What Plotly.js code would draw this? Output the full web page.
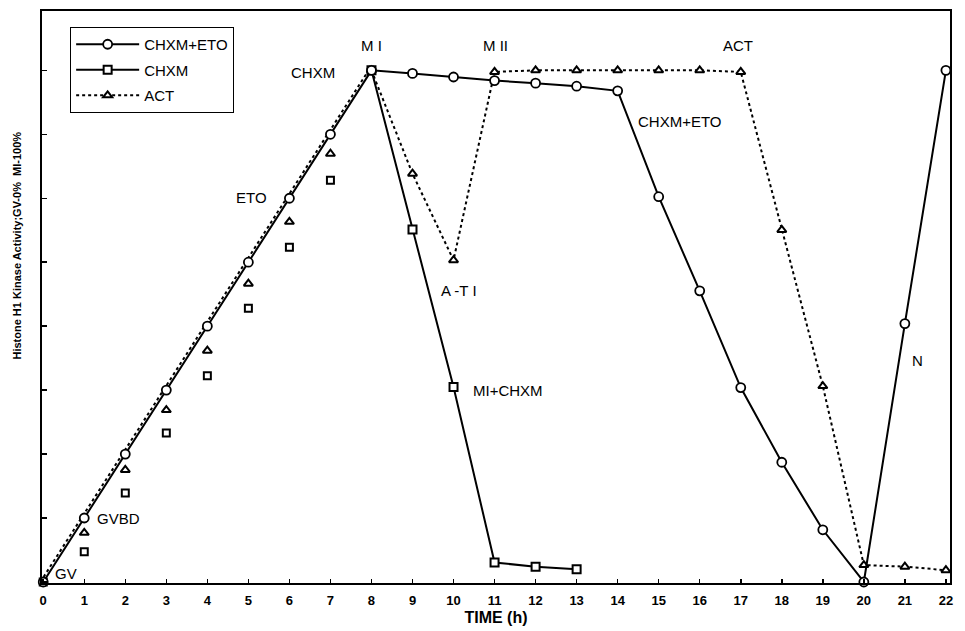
<!DOCTYPE html>
<html>
<head>
<meta charset="utf-8">
<script src="https://cdn.plot.ly/plotly-3.0.1.min.js"></script>
<style>html,body{margin:0;padding:0;background:#fff;}#chart{width:965px;height:631px;}</style>
</head>
<body>
<div id="chart"></div>
<script>
// Time (h)
const hoursEto = [0,1,2,3,4,5,6,7,8,9,10,11,12,13,14,15,16,17,18,19,20,21,22];
const hoursChxm = [0,1,2,3,4,5,6,7,8,9,10,11,12,13];
const hoursAct = [0,1,2,3,4,5,6,7,8,9,10,11,12,13,14,15,16,17,18,19,20,21,22];
const tickLabels = ["0","1","2","3","4","5","6","7","8","9","10","11","12","13","14","15","16","17","18","19","20","21","22"];

// Histone H1 kinase activity (% ; GV = 0, MI = 100)
const chxmEto = [0,12.5,25,37.5,50,62.5,75,87.5,100,99.4,98.7,98.0,97.5,96.9,96.0,75.3,56.9,38.0,23.4,10.2,0,50.5,100];
const chxm    = [0,5.9,17.4,29.1,40.3,53.5,65.4,78.5,100,68.9,38.1,3.8,3.0,2.5];
const act     = [0,9.6,21.9,33.6,45.2,58.3,70.4,83.7,100,79.8,62.9,99.7,100,100,100,100,100,99.7,68.8,38.3,3.3,3.0,2.3];

// labels written on the plot
const noteText = ["GV","GVBD","ETO","CHXM","M I","M II","ACT","CHXM+ETO","A -T I","MI+CHXM","N"];
const noteX    = [0.55,1.27,5.07,6.58,8.01,11.03,16.93,15.52,10.13,11.33,21.31];
const noteY    = [1.6,12.5,75.1,99.6,104.9,104.9,104.9,90.0,57.0,37.5,43.2];
const noteAnchor = ["center","left","center","center","center","center","center","center","center","center","center"];

const yTitle = "Histone H1 Kinase Activity;GV-0%  MI-100%";

const rampEnd = 9; // points up to MI (8 h)
const font = "Arial, 'Liberation Sans', sans-serif";

const traces = [];
// ACT dotted ramp drawn just above the solid ramp
traces.push({
  x: hoursEto.slice(0, rampEnd).map(v => v - 0.07), y: chxmEto.slice(0, rampEnd),
  mode: "lines", line: {color: "#000", width: 2, dash: "dot"},
  showlegend: false, hoverinfo: "skip", cliponaxis: false
});
// ACT rising points (unconnected)
traces.push({
  x: hoursAct.slice(1, 8), y: act.slice(1, 8), mode: "markers",
  marker: {symbol: "triangle-up", size: 8, color: "#fff", line: {color: "#000", width: 2}},
  showlegend: false, cliponaxis: false
});
// ACT from MI
traces.push({
  name: "ACT", legendgroup: "c", legendrank: 3, x: hoursAct.slice(8), y: act.slice(8), mode: "lines+markers",
  line: {color: "#000", width: 2, dash: "dot"},
  marker: {symbol: "triangle-up", size: 8, color: "#fff", line: {color: "#000", width: 2}},
  cliponaxis: false
});
// CHXM rising points (unconnected)
traces.push({
  x: hoursChxm.slice(0, 8), y: chxm.slice(0, 8), mode: "markers",
  marker: {symbol: "square", size: 7, color: "#fff", line: {color: "#000", width: 2}},
  showlegend: false, cliponaxis: false
});
// CHXM from MI
traces.push({
  name: "CHXM", legendgroup: "b", legendrank: 2, x: hoursChxm.slice(8), y: chxm.slice(8), mode: "lines+markers",
  line: {color: "#000", width: 2},
  marker: {symbol: "square", size: 8, color: "#fff", line: {color: "#000", width: 2}},
  cliponaxis: false
});
// CHXM+ETO
traces.push({
  name: "CHXM+ETO", legendgroup: "a", legendrank: 1, x: hoursEto, y: chxmEto, mode: "lines+markers",
  line: {color: "#000", width: 2},
  marker: {symbol: "circle", size: 9, color: "#fff", line: {color: "#000", width: 1.8}},
  cliponaxis: false
});

const annotations = noteText.map((t, i) => ({
  text: t, x: noteX[i], y: noteY[i], xref: "x", yref: "y",
  xanchor: noteAnchor[i], yanchor: "middle", showarrow: false,
  font: {family: font, size: 15, color: "#000"}
}));
annotations.push({
  text: "<b>" + yTitle + "</b>", xref: "paper", yref: "paper",
  x: -0.0286, y: 0.59, xanchor: "center", yanchor: "middle", textangle: -90,
  showarrow: false, font: {family: font, size: 11, color: "#000"}
});

const layout = {
  width: 965, height: 631,
  margin: {l: 42, r: 15, t: 11, b: 48},
  paper_bgcolor: "#fff", plot_bgcolor: "#fff",
  font: {family: font, color: "#000"},
  showlegend: true,
  legend: {
    x: 0.031, y: 0.972, xanchor: "left", yanchor: "top",
    bordercolor: "#000", borderwidth: 1, bgcolor: "#fff",
    font: {family: font, size: 15, color: "#000"},
    itemwidth: 63, tracegroupgap: 3, traceorder: "grouped"
  },
  xaxis: {
    range: [-0.03, 22.1], tickmode: "array", tickvals: hoursEto, ticktext: tickLabels.map(s => "<b>" + s + "</b>"),
    tickfont: {family: font, size: 13, color: "#000"},
    ticks: "inside", ticklen: 4, tickwidth: 1.5, tickcolor: "#000", ticklabelstandoff: 4,
    showline: true, linecolor: "#000", linewidth: 2, mirror: true,
    showgrid: false, zeroline: false,
    title: {text: "<b>TIME (h)</b>", font: {family: font, size: 16, color: "#000"}, standoff: 5}
  },
  yaxis: {
    range: [-0.2, 111.6], tick0: 0, dtick: 12.5, showticklabels: false,
    ticks: "inside", ticklen: 5, tickwidth: 1.5, tickcolor: "#000",
    showline: true, linecolor: "#000", linewidth: 2, mirror: true,
    showgrid: false, zeroline: false
  },
  annotations: annotations
};

Plotly.newPlot("chart", traces, layout, {displayModeBar: false, staticPlot: true});
</script>
</body>
</html>
